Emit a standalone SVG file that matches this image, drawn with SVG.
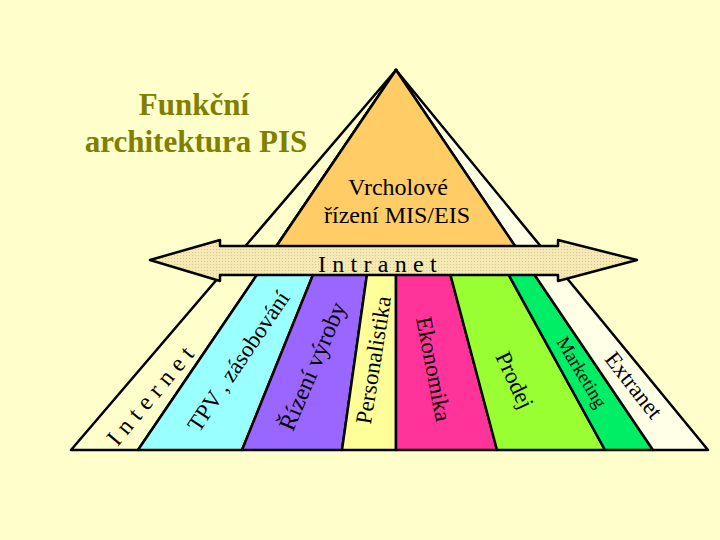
<svg xmlns="http://www.w3.org/2000/svg" width="720" height="540" viewBox="0 0 720 540">
  <defs>
    <pattern id="dots" width="3" height="3" patternUnits="userSpaceOnUse">
      <rect width="3" height="3" fill="#F6EAB4"/>
      <rect x="0" y="0" width="1" height="1" fill="#D9C88E"/>
    </pattern>
    <style>
      .band { stroke: #000; stroke-width: 2.5; stroke-linejoin: round; }
      .lbl { fill: #000; text-anchor: middle; }
      .title { font-weight: bold; font-size: 31px; fill: #808000; text-anchor: middle; }
    </style>
  </defs>
  <rect width="720" height="540" fill="#FFFFCC"/>

  <g id="title" font-family="Liberation Serif, DejaVu Serif, serif">
    <text class="title" x="194" y="115">Funkční</text>
    <text class="title" x="196" y="152">architektura PIS</text>
  </g>

  <g id="bands">
    <polygon id="band-internet" class="band" points="396,70 71,450 138,450" fill="#FFFFCC"/>
    <polygon id="band-tpv" class="band" points="396,70 138,450 242,450" fill="#99FFFF"/>
    <polygon id="band-rizeni" class="band" points="396,70 242,450 342,450" fill="#9966FF"/>
    <polygon id="band-personalistika" class="band" points="396,70 342,450 396,450" fill="#FFFF99"/>
    <polygon id="band-ekonomika" class="band" points="396,70 396,450 497,450" fill="#FF3399"/>
    <polygon id="band-prodej" class="band" points="396,70 497,450 605,450" fill="#99FF33"/>
    <polygon id="band-marketing" class="band" points="396,70 605,450 653,450" fill="#00EE66"/>
    <polygon id="band-extranet" class="band" points="396,70 653,450 708,450" fill="#FFFFE6"/>
  </g>

  <g id="vrchol" font-family="Liberation Serif, DejaVu Serif, serif">
    <polygon class="band" points="396,70 273.8,250 517.7,250" fill="#FFCC66"/>
    <text class="lbl" x="398" y="195" font-size="24">Vrcholové</text>
    <text class="lbl" x="397" y="223" font-size="24">řízení MIS/EIS</text>
  </g>

  <g id="intranet" font-family="Liberation Serif, DejaVu Serif, serif">
    <polygon class="band" points="150,260 220,240 220,246 558,246 558,240 637,260 558,281 558,275 220,275 220,281" fill="url(#dots)"/>
    <text class="lbl" x="318" y="272" font-size="24" letter-spacing="6.3" style="text-anchor:start">Intranet</text>
  </g>

  <g id="labels" font-family="Liberation Serif, DejaVu Serif, serif">
    <text class="lbl" font-size="24" letter-spacing="6.6" transform="translate(152,393) rotate(-50)" dy="0.35em">Internet</text>
    <text class="lbl" font-size="23" transform="translate(238,361) rotate(-56)" dy="0.35em">TPV , zásobování</text>
    <text class="lbl" font-size="24" transform="translate(312,366) rotate(-67)" dy="0.35em">Řízení výroby</text>
    <text class="lbl" font-size="23" transform="translate(373,360) rotate(-81)" dy="0.35em">Personalistika</text>
    <text class="lbl" font-size="23" transform="translate(434,369) rotate(79)" dy="0.35em">Ekonomika</text>
    <text class="lbl" font-size="23" transform="translate(515,380) rotate(65)" dy="0.35em">Prodej</text>
    <text class="lbl" font-size="19" transform="translate(582,372) rotate(59)" dy="0.35em">Marketing</text>
    <text class="lbl" font-size="23" transform="translate(634,385) rotate(52)" dy="0.35em">Extranet</text>
  </g>
  <g id="connectors"/>
</svg>
